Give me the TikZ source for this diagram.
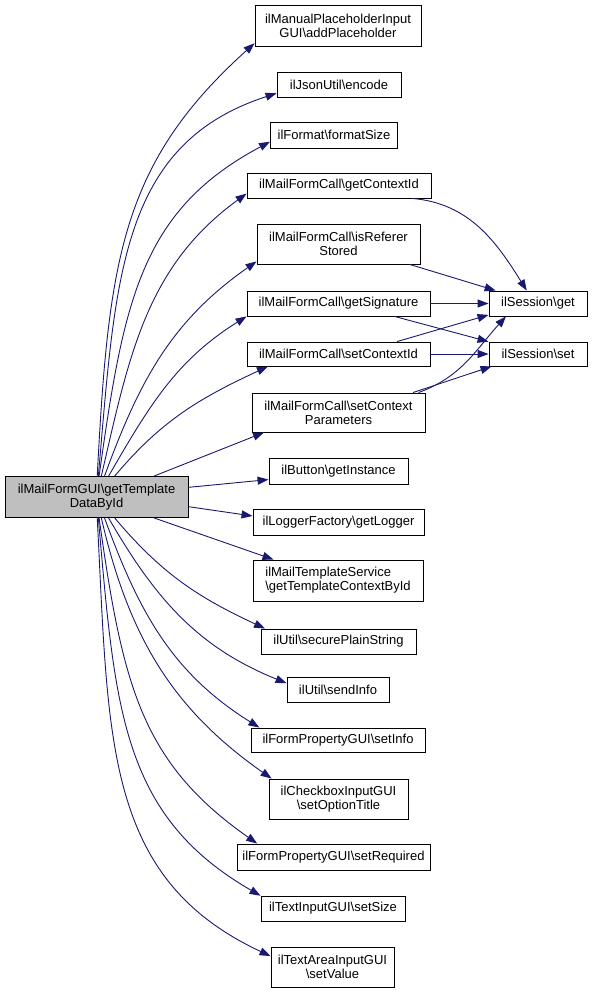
\documentclass[tikz,border=0pt]{standalone}
\usepackage{fontspec}
\setmainfont{Liberation Sans}
\usetikzlibrary{arrows.meta}
\definecolor{callblue}{HTML}{191970}

\begin{document}
\begin{tikzpicture}[x=1pt, y=1pt]
    % Styles
    \tikzstyle{func} = [rectangle, draw=black, line width=0.9pt, minimum height=25, inner sep=1pt, align=center, font=\fontsize{13}{14}\selectfont, fill=white]
    \tikzstyle{func2} = [func, minimum height=40]
    \tikzstyle{current} = [func2, fill=gray!50]
    \tikzstyle{call} = [->, >={Triangle[length=11pt, width=8pt]}, draw=callblue, line width=0.9pt]

    \useasboundingbox (0,0) rectangle (592,-993);

    % Nodes
    \node[current, minimum width=183, minimum height=41] (main) at (96.5,-497) {ilMailFormGUI\textbackslash{}getTemplate\\DataById};

    \node[func2, minimum width=166, minimum height=41] (addPH) at (338,-25.5) {ilManualPlaceholderInput\\GUI\textbackslash{}addPlaceholder};
    \node[func, minimum width=124] (encode) at (339,-84.5) {ilJsonUtil\textbackslash{}encode};
    \node[func, minimum width=127, minimum height=26] (fmtSize) at (334,-135) {ilFormat\textbackslash{}formatSize};
    \node[func, minimum width=184] (getCtx) at (339,-185.5) {ilMailFormCall\textbackslash{}getContextId};
    \node[func2, minimum width=163] (isRef) at (338.5,-244) {ilMailFormCall\textbackslash{}isReferer\\Stored};
    \node[func, minimum width=183] (getSig) at (338.5,-303.5) {ilMailFormCall\textbackslash{}getSignature};
    \node[func, minimum width=183, minimum height=24] (setCtx) at (338.5,-354) {ilMailFormCall\textbackslash{}setContextId};
    \node[func2, minimum width=173, minimum height=39] (setCtxPar) at (338.5,-412.5) {ilMailFormCall\textbackslash{}setContext\\Parameters};
    \node[func, minimum width=139, minimum height=26] (getInst) at (338.5,-471) {ilButton\textbackslash{}getInstance};
    \node[func, minimum width=171, minimum height=26] (getLog) at (338.5,-522) {ilLoggerFactory\textbackslash{}getLogger};
    \node[func2, minimum width=170, minimum height=41, align=left] (getTplCtx) at (338,-580.5) {ilMailTemplateService\\\textbackslash{}getTemplateContextById};
    \node[func, minimum width=155] (secPlain) at (338.5,-641.5) {ilUtil\textbackslash{}securePlainString};
    \node[func, minimum width=102] (sendInfo) at (338,-689.5) {ilUtil\textbackslash{}sendInfo};
    \node[func, minimum width=174, minimum height=24] (setInfo) at (338,-740) {ilFormPropertyGUI\textbackslash{}setInfo};
    \node[func2, minimum width=139] (setOptTitle) at (338.5,-799) {ilCheckboxInputGUI\\\textbackslash{}setOptionTitle};
    \node[func, minimum width=193, minimum height=26] (setReq) at (333.5,-857) {ilFormPropertyGUI\textbackslash{}setRequired};
    \node[func, minimum width=144] (setSize) at (333,-908.5) {ilTextInputGUI\textbackslash{}setSize};
    \node[func2, minimum width=123] (setValue) at (332.5,-967) {ilTextAreaInputGUI\\\textbackslash{}setValue};

    \node[func, minimum width=98] (sessGet) at (538,-303.5) {ilSession\textbackslash{}get};
    \node[func, minimum width=98, minimum height=24] (sessSet) at (538,-354) {ilSession\textbackslash{}set};

    % Arrows from the main function
    \draw[call] (main.88.6) to[out=87, in=222, out looseness=1.2] (addPH.192);
    \draw[call] (main.85.8) to[out=85, in=198, out looseness=1.2] (encode.188);
    \draw[call] (main.83) to[out=82, in=208, out looseness=1.2] (fmtSize.186);
    \draw[call] (main.77.6) to[out=77, in=216] (getCtx.185);
    \draw[call] (main.69.9) to[out=70, in=215] (isRef.192.5);
    \draw[call] (main.60.7) to[out=60, in=212] (getSig.188.7);
    \draw[call] (main.49.5) to[out=50, in=205] (setCtx.190);
    \draw[call] (main.20.6) -- (setCtxPar.195);
    \draw[call] (main.6) -- (getInst.187.4);
    \draw[call] (main.-6) -- (getLog.176.7);
    \draw[call] (main.-20.6) -- (getTplCtx.162);
    \draw[call] (main.-49.5) to[out=-50, in=155] (secPlain.170);
    \draw[call] (main.-60.7) to[out=-60, in=158] (sendInfo.173.8);
    \draw[call] (main.-69.9) to[out=-70, in=148] (setInfo.171.3);
    \draw[call] (main.-77.6) to[out=-77, in=145] (setOptTitle.163);
    \draw[call] (main.-83) to[out=-82, in=145, out looseness=1.2] (setReq.170.6);
    \draw[call] (main.-85.8) to[out=-85, in=150, out looseness=1.2] (setSize.170);
    \draw[call] (main.-88.6) to[out=-87, in=155, out looseness=1.2] (setValue.170.8);

    % Arrows to the session
    \draw[call] (getCtx.-10) to[out=-5, in=122] (sessGet.131);
    \draw[call] (isRef.-16.3) -- (sessGet.163);
    \draw[call] (getSig.east) -- (sessGet.west);
    \draw[call] (getSig.-13.2) -- (sessSet.166);
    \draw[call] (setCtx.12) -- (sessGet.193.5);
    \draw[call] (setCtx.east) -- (sessSet.west);
    \draw[call] (setCtxPar.14.9) to[out=20, in=228] (sessGet.202.6);
    \draw[call] (setCtxPar.15.9) -- (sessSet.195.6);
\end{tikzpicture}
\end{document}
